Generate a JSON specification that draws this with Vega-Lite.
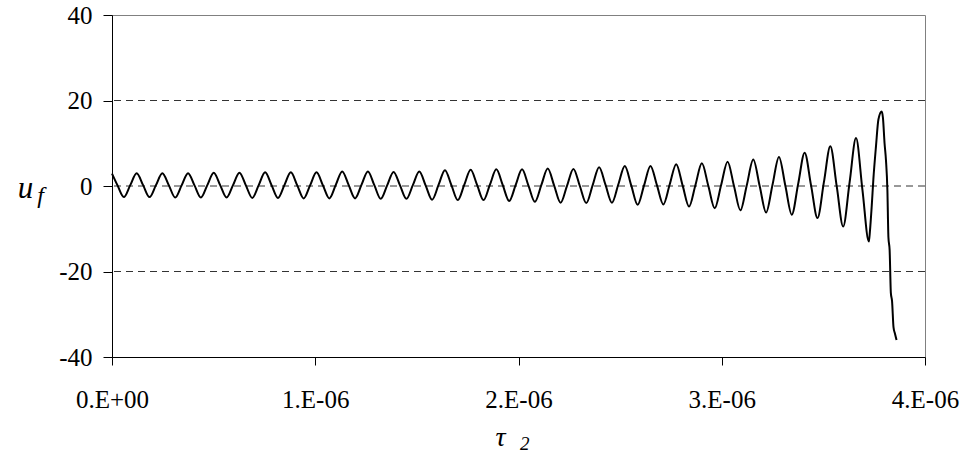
{
  "$schema": "https://vega.github.io/schema/vega-lite/v6.json",
  "width": 813,
  "height": 342,
  "autosize": {"type": "none"},
  "padding": {"left": 112, "top": 15, "right": 43, "bottom": 102},
  "background": "white",
  "config": {
    "view": {"stroke": "#808080", "strokeWidth": 1},
    "font": "Liberation Serif",
    "axis": {
      "labelFont": "Liberation Serif",
      "labelFontSize": 25,
      "labelColor": "black",
      "labelFlush": false,
      "labelOverlap": false,
      "domainColor": "black",
      "domainWidth": 1,
      "tickColor": "black",
      "tickWidth": 1,
      "titleFont": "Liberation Serif",
      "titleFontStyle": "italic",
      "titleFontWeight": "normal",
      "titleColor": "black"
    }
  },
  "title": {
    "text": "2",
    "orient": "top",
    "anchor": "start",
    "frame": "group",
    "align": "left",
    "baseline": "alphabetic",
    "font": "Liberation Serif",
    "fontStyle": "italic",
    "fontWeight": "normal",
    "fontSize": 19,
    "color": "black",
    "offset": 0,
    "dx": 408,
    "dy": 466
  },
  "resolve": {"axis": {"y": "independent"}},
  "layer": [
    {
      "data": {"values": [{"level": -20}, {"level": 0}, {"level": 20}]},
      "mark": {"type": "rule", "color": "#333333", "strokeWidth": 1, "strokeDash": [7, 5]},
      "encoding": {
        "y": {
          "field": "level",
          "type": "quantitative",
          "scale": {"domain": [-40, 40], "nice": false},
          "axis": {
            "orient": "left",
            "domain": false,
            "ticks": false,
            "labels": false,
            "grid": false,
            "title": "f",
            "titleFontSize": 24,
            "titleAngle": 0,
            "titleAlign": "center",
            "titleBaseline": "alphabetic",
            "titleX": -72,
            "titleY": 187
          }
        }
      }
    },
    {
      "data": {
        "values": [
          {"tau2": 0, "uf": 2.9},
          {"tau2": 0.0266, "uf": 0.2}, {"tau2": 0.0582, "uf": -2.6}, {"tau2": 0.0898, "uf": 0.2}, {"tau2": 0.1214, "uf": 3.0},
          {"tau2": 0.1530, "uf": 0.2}, {"tau2": 0.1846, "uf": -2.6}, {"tau2": 0.2162, "uf": 0.2}, {"tau2": 0.2478, "uf": 3.0},
          {"tau2": 0.2794, "uf": 0.2}, {"tau2": 0.3110, "uf": -2.7}, {"tau2": 0.3426, "uf": 0.15}, {"tau2": 0.3742, "uf": 3.0},
          {"tau2": 0.4058, "uf": 0.15}, {"tau2": 0.4374, "uf": -2.7}, {"tau2": 0.4690, "uf": 0.2}, {"tau2": 0.5006, "uf": 3.1},
          {"tau2": 0.5322, "uf": 0.2}, {"tau2": 0.5638, "uf": -2.7}, {"tau2": 0.5954, "uf": 0.2}, {"tau2": 0.6270, "uf": 3.1},
          {"tau2": 0.6586, "uf": 0.15}, {"tau2": 0.6902, "uf": -2.8}, {"tau2": 0.7218, "uf": 0.2}, {"tau2": 0.7534, "uf": 3.2},
          {"tau2": 0.7850, "uf": 0.2}, {"tau2": 0.8166, "uf": -2.8}, {"tau2": 0.8482, "uf": 0.2}, {"tau2": 0.8798, "uf": 3.2},
          {"tau2": 0.9114, "uf": 0.15}, {"tau2": 0.9430, "uf": -2.9}, {"tau2": 0.9746, "uf": 0.15}, {"tau2": 1.0062, "uf": 3.2},
          {"tau2": 1.0378, "uf": 0.15}, {"tau2": 1.0694, "uf": -2.9}, {"tau2": 1.1010, "uf": 0.25}, {"tau2": 1.1326, "uf": 3.4},
          {"tau2": 1.1642, "uf": 0.25}, {"tau2": 1.1958, "uf": -2.9}, {"tau2": 1.2274, "uf": 0.25}, {"tau2": 1.2590, "uf": 3.4},
          {"tau2": 1.2906, "uf": 0.2}, {"tau2": 1.3222, "uf": -3.0}, {"tau2": 1.3538, "uf": 0.15}, {"tau2": 1.3854, "uf": 3.3},
          {"tau2": 1.4170, "uf": 0.15}, {"tau2": 1.4486, "uf": -3.0}, {"tau2": 1.4802, "uf": 0.2}, {"tau2": 1.5118, "uf": 3.4},
          {"tau2": 1.5434, "uf": 0.1}, {"tau2": 1.5750, "uf": -3.2}, {"tau2": 1.6066, "uf": 0.25}, {"tau2": 1.6382, "uf": 3.7},
          {"tau2": 1.6698, "uf": 0.2}, {"tau2": 1.7014, "uf": -3.3}, {"tau2": 1.7330, "uf": 0.25}, {"tau2": 1.7646, "uf": 3.8},
          {"tau2": 1.7962, "uf": 0.25}, {"tau2": 1.8278, "uf": -3.3}, {"tau2": 1.8594, "uf": 0.3}, {"tau2": 1.8910, "uf": 3.9},
          {"tau2": 1.9226, "uf": 0.2}, {"tau2": 1.9542, "uf": -3.5}, {"tau2": 1.9858, "uf": 0.2}, {"tau2": 2.0174, "uf": 3.9},
          {"tau2": 2.0490, "uf": 0.1}, {"tau2": 2.0806, "uf": -3.7}, {"tau2": 2.1122, "uf": 0.2}, {"tau2": 2.1438, "uf": 4.1},
          {"tau2": 2.1754, "uf": 0.1}, {"tau2": 2.2070, "uf": -3.9}, {"tau2": 2.2386, "uf": 0.05}, {"tau2": 2.2702, "uf": 4.0},
          {"tau2": 2.3018, "uf": 0}, {"tau2": 2.3334, "uf": -4.0}, {"tau2": 2.3650, "uf": 0.2}, {"tau2": 2.3966, "uf": 4.4},
          {"tau2": 2.4282, "uf": 0.25}, {"tau2": 2.4598, "uf": -3.9}, {"tau2": 2.4914, "uf": 0.4}, {"tau2": 2.5230, "uf": 4.7},
          {"tau2": 2.5546, "uf": 0.15}, {"tau2": 2.5862, "uf": -4.4}, {"tau2": 2.6178, "uf": 0.15}, {"tau2": 2.6494, "uf": 4.7},
          {"tau2": 2.6810, "uf": 0.2}, {"tau2": 2.7126, "uf": -4.3}, {"tau2": 2.7442, "uf": 0.4}, {"tau2": 2.7758, "uf": 5.1},
          {"tau2": 2.8074, "uf": 0.15}, {"tau2": 2.8390, "uf": -4.8}, {"tau2": 2.8706, "uf": 0.25}, {"tau2": 2.9022, "uf": 5.3},
          {"tau2": 2.9338, "uf": 0.05}, {"tau2": 2.9654, "uf": -5.2}, {"tau2": 2.9970, "uf": 0.25}, {"tau2": 3.0286, "uf": 5.7},
          {"tau2": 3.0602, "uf": 0}, {"tau2": 3.0918, "uf": -5.7}, {"tau2": 3.1234, "uf": 0.25}, {"tau2": 3.1550, "uf": 6.2},
          {"tau2": 3.1866, "uf": 0}, {"tau2": 3.2182, "uf": -6.2}, {"tau2": 3.2498, "uf": 0.3}, {"tau2": 3.2814, "uf": 6.8},
          {"tau2": 3.3130, "uf": 0.05}, {"tau2": 3.3446, "uf": -6.7}, {"tau2": 3.3762, "uf": 0.55}, {"tau2": 3.4078, "uf": 7.8},
          {"tau2": 3.4394, "uf": 0.15}, {"tau2": 3.4710, "uf": -7.5}, {"tau2": 3.5026, "uf": 0.9}, {"tau2": 3.5342, "uf": 9.3},
          {"tau2": 3.5658, "uf": -0.1}, {"tau2": 3.5974, "uf": -9.5}, {"tau2": 3.6290, "uf": 0.85}, {"tau2": 3.6606, "uf": 11.2},
          {"tau2": 3.6922, "uf": -0.9}, {"tau2": 3.7238, "uf": -13.0}, {"tau2": 3.729, "uf": -10.6}, {"tau2": 3.738, "uf": -4.6},
          {"tau2": 3.746, "uf": 1.6}, {"tau2": 3.759, "uf": 9.4}, {"tau2": 3.771, "uf": 15.6}, {"tau2": 3.787, "uf": 17.4},
          {"tau2": 3.793, "uf": 16.0}, {"tau2": 3.801, "uf": 10.0}, {"tau2": 3.808, "uf": 6.0}, {"tau2": 3.815, "uf": -1.0},
          {"tau2": 3.820, "uf": -12.0}, {"tau2": 3.826, "uf": -15.0}, {"tau2": 3.832, "uf": -25.0}, {"tau2": 3.838, "uf": -27.0},
          {"tau2": 3.845, "uf": -33.0}, {"tau2": 3.852, "uf": -34.5}, {"tau2": 3.860, "uf": -36.0}
        ]
      },
      "mark": {"type": "line", "color": "black", "strokeWidth": 2, "interpolate": "monotone"},
      "encoding": {
        "x": {
          "field": "tau2",
          "type": "quantitative",
          "scale": {"domain": [0, 4], "nice": false, "zero": false},
          "axis": {
            "values": [0, 1, 2, 3, 4],
            "labelExpr": "datum.value === 0 ? '0.E+00' : datum.value + '.E-06'",
            "grid": false,
            "tickSize": 8,
            "labelPadding": 22,
            "title": "τ",
            "titleFontSize": 28,
            "titleAlign": "center",
            "titleBaseline": "alphabetic",
            "titleX": 388,
            "titleY": 88
          }
        },
        "y": {
          "field": "uf",
          "type": "quantitative",
          "scale": {"domain": [-40, 40], "nice": false},
          "axis": {
            "orient": "left",
            "values": [-40, -20, 0, 20, 40],
            "labelExpr": "'' + datum.value",
            "grid": false,
            "tickSize": 9,
            "labelPadding": 11,
            "title": "u",
            "titleFontSize": 31,
            "titleAngle": 0,
            "titleAlign": "center",
            "titleBaseline": "alphabetic",
            "titleX": -87,
            "titleY": 182
          }
        }
      }
    }
  ]
}
